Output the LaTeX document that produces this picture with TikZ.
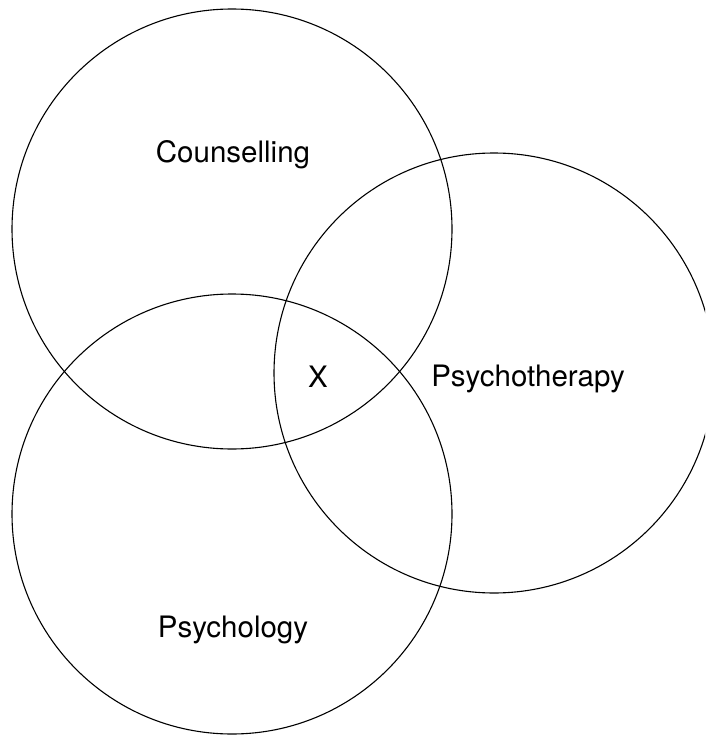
\documentclass[tikz,border=0pt]{standalone}
\usepackage{fontspec}
\setmainfont{TeX Gyre Heros}
\usepackage{tikz}
\usetikzlibrary{positioning}

\begin{document}
\begin{tikzpicture}[x=1pt, y=-1pt,
  ring/.style={draw=black, line width=1.1pt},
  lbl/.style={font=\fontsize{29.5}{31}\selectfont, inner sep=0pt}
]
\useasboundingbox (0,0) rectangle (705,738);
\clip (0,0) rectangle (705,738);
\coordinate (cou) at (232,229);
\coordinate (the) at (494,373);
\coordinate (psy) at (232,514);
\draw[ring] (cou) circle (220pt);
\draw[ring] (the) circle (220pt);
\draw[ring] (psy) circle (220pt);
\node[lbl] (counselling) at (233,155) {Counselling};
\node[lbl] (psychotherapy) at (528,379) {Psychotherapy};
\node[lbl] (psychology) at (233,630) {Psychology};
\node[lbl] (x) at (318,377) {X};
\end{tikzpicture}
\end{document}
